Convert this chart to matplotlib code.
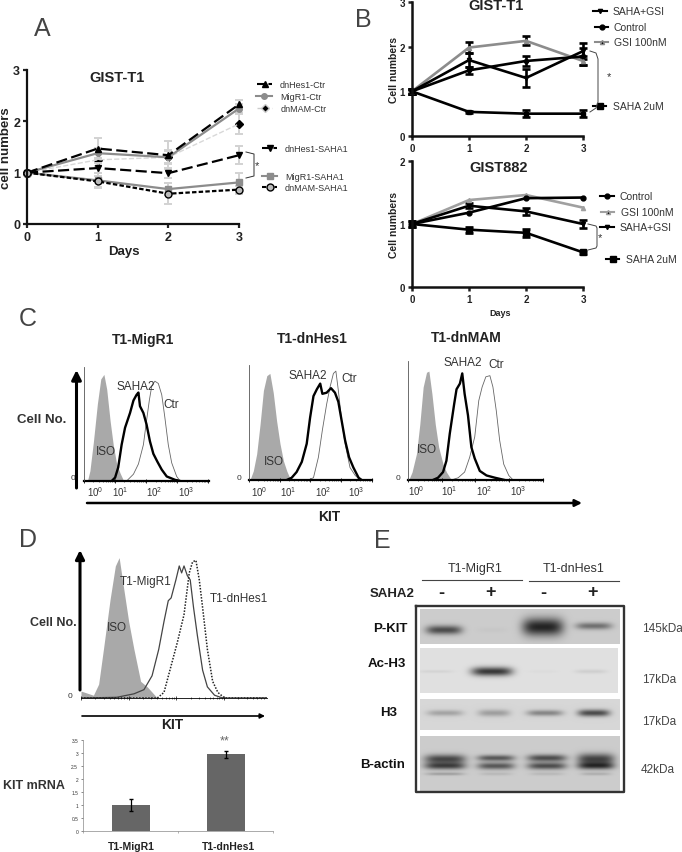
import numpy as np
import matplotlib
matplotlib.use('Agg')
import matplotlib.pyplot as plt
from matplotlib.ticker import LogLocator, NullFormatter

W, H = 682, 853
plt.rcParams['font.family'] = ['Liberation Sans', 'DejaVu Sans']
plt.rcParams['mathtext.default'] = 'regular'

# panel A
days = [0, 1, 2, 3]
a_hes_ctr = [1, 1.47, 1.34, 2.33]
a_mig_ctr = [1, 1.38, 1.30, 2.25]
a_mam_ctr = [1, 1.25, 1.30, 1.95]
a_hes_saha = [1, 1.09, 0.99, 1.34]
a_mig_saha = [1, 0.85, 0.68, 0.81]
a_mam_saha = [1, 0.83, 0.59, 0.67]
a_hes_ctr_err = [0, 0.20, 0.27, 0.09]
a_mig_ctr_err = [0, 0.10, 0.12, 0.08]
a_mam_ctr_err = [0, 0.12, 0.14, 0.20]
a_hes_saha_err = [0, 0.10, 0.10, 0.18]
a_mig_saha_err = [0, 0.14, 0.12, 0.18]
a_mam_saha_err = [0, 0.10, 0.20, 0.08]

# panel B
bt_combo = [1, 1.70, 1.30, 1.90]
bt_control = [1, 1.47, 1.68, 1.78]
bt_gsi = [1, 1.98, 2.13, 1.68]
bt_saha = [1, 0.54, 0.50, 0.50]
bt_combo_err = [0.06, 0.15, 0.20, 0.18]
bt_control_err = [0.06, 0.08, 0.12, 0.18]
bt_gsi_err = [0.06, 0.13, 0.10, 0.10]
bt_saha_err = [0.06, 0.03, 0.08, 0.08]
b8_control = [1, 1.18, 1.41, 1.42]
b8_gsi = [1, 1.38, 1.46, 1.26]
b8_combo = [1, 1.29, 1.20, 1.00]
b8_saha = [1, 0.91, 0.86, 0.55]
b8_combo_err = [0.04, 0.04, 0.06, 0.06]
b8_saha_err = [0.04, 0.05, 0.06, 0.02]

# panel C, x is log10(KIT), y is % of max
c1_iso_x = [0.11, 0.19, 0.30, 0.43, 0.54, 0.64, 0.73, 0.84, 0.94, 1.05, 1.16, 1.26, 1.34]
c1_iso_y = [0, 9, 34, 68, 90, 94, 81, 53, 32, 15, 7, 1, 0]
c1_saha_x = [0.89, 1.00, 1.10, 1.21, 1.32, 1.48, 1.59, 1.69, 1.75, 1.80, 1.91, 2.01, 2.12, 2.23, 2.36, 2.50, 2.66, 2.93, 3.09]
c1_saha_y = [0, 3, 12, 32, 47, 60, 71, 76, 78, 66, 60, 50, 35, 24, 17, 10, 4, 1, 0]
c1_ctr_x = [1.37, 1.59, 1.75, 1.91, 2.01, 2.10, 2.18, 2.28, 2.39, 2.50, 2.60, 2.71, 2.82, 2.98, 3.09]
c1_ctr_y = [0, 6, 15, 32, 53, 71, 84, 88, 86, 76, 56, 32, 16, 4, 0]

c2_iso_x = [0.03, 0.14, 0.25, 0.36, 0.47, 0.58, 0.68, 0.79, 0.90, 1.01, 1.12, 1.23, 1.34, 1.39]
c2_iso_y = [0, 8, 23, 49, 79, 92, 94, 77, 52, 32, 17, 8, 1, 0]
c2_saha_x = [1.23, 1.39, 1.55, 1.72, 1.88, 1.99, 2.10, 2.21, 2.32, 2.39, 2.53, 2.67, 2.80, 2.91, 3.02, 3.13, 3.26, 3.40, 3.57, 3.67]
c2_saha_y = [0, 2, 7, 16, 32, 55, 74, 80, 85, 76, 77, 81, 77, 69, 52, 35, 20, 11, 2, 0]
c2_ctr_x = [1.93, 2.10, 2.26, 2.39, 2.53, 2.64, 2.75, 2.83, 2.91, 3.02, 3.13, 3.29, 3.46, 3.62]
c2_ctr_y = [0, 2, 20, 44, 67, 82, 94, 96, 79, 52, 32, 11, 4, 0]

c3_iso_x = [0.02, 0.12, 0.25, 0.35, 0.45, 0.55, 0.62, 0.71, 0.81, 0.91, 1.04, 1.14, 1.29]
c3_iso_y = [0, 7, 23, 49, 82, 95, 96, 76, 49, 29, 14, 7, 0]
c3_saha_x = [0.74, 0.89, 1.04, 1.14, 1.24, 1.37, 1.44, 1.54, 1.61, 1.68, 1.78, 1.88, 1.98, 2.13, 2.33, 2.58, 2.87]
c3_saha_y = [0, 2, 7, 17, 41, 67, 80, 85, 94, 76, 57, 29, 19, 8, 4, 2, 0]
c3_ctr_x = [1.29, 1.49, 1.68, 1.83, 1.98, 2.10, 2.20, 2.31, 2.43, 2.52, 2.62, 2.72, 2.84, 2.99, 3.12]
c3_ctr_y = [0, 2, 7, 20, 38, 70, 82, 91, 92, 82, 61, 35, 14, 4, 0]

# panel D
d_iso_x = [0, 0.26, 0.37, 0.47, 0.61, 0.72, 0.80, 0.89, 1.00, 1.11, 1.25, 1.39, 1.60]
d_iso_y = [5, 2, 10, 35, 71, 95, 101, 80, 55, 35, 12, 8, 0]
d_mig_x = [0, 0.75, 1.11, 1.32, 1.49, 1.63, 1.74, 1.83, 1.89, 1.99, 2.06, 2.11, 2.16, 2.23,
           2.29, 2.36, 2.44, 2.55, 2.65, 2.80, 2.97, 3.9]
d_mig_y = [0, 0.5, 3, 6, 16, 35, 55, 70, 72, 85, 95, 90, 95, 88, 85, 65, 45, 20, 8, 2, 0, 0]
d_hes_x = [0, 1.60, 1.74, 1.88, 2.02, 2.16, 2.27, 2.34, 2.41, 2.48, 2.55, 2.65, 2.76, 2.87, 3.01, 3.9]
d_hes_y = [0, 0, 4, 22, 40, 60, 90, 98, 99, 85, 65, 35, 12, 4, 0, 0]

mrna_names = ['T1-MigR1', 'T1-dnHes1']
mrna_values = [1.0, 2.95]
mrna_err = [0.22, 0.13]

# panel E, darkness of the band in each lane
pkit_dark = [0.50, 0.02, 0.66, 0.36]
ach3_dark = [0.05, 0.66, 0.02, 0.07]
h3_dark = [0.20, 0.22, 0.32, 0.55]
actin_dark = [0.52, 0.46, 0.50, 0.54]
actin_low_dark = [0.18, 0.08, 0.08, 0.12]


def px_axes(fig, left, top, right, bottom, **kw):
    return fig.add_axes([left / W, 1 - bottom / H, (right - left) / W, (bottom - top) / H], **kw)


def line_axes(ax, xlim, ylim, yticks, size=9, lw=1.6):
    ax.set_xlim(xlim)
    ax.set_ylim(ylim)
    ax.set_xticks(days)
    ax.set_yticks(yticks)
    ax.patch.set_alpha(0)
    for s in ['top', 'right']:
        ax.spines[s].set_visible(False)
    for s in ['left', 'bottom']:
        ax.spines[s].set_linewidth(lw)
        ax.spines[s].set_color('#111111')
    ax.tick_params(width=lw, length=3, labelsize=size, pad=2, colors='#222222')
    for t in ax.get_xticklabels() + ax.get_yticklabels():
        t.set_fontweight('bold')


def series(ax, y, err=None, color='black', ls='-', marker='s', ms=4, lw=1.6, ecolor=None, cap=3, mfc=None, elw=1.6, first=0):
    ax.errorbar(days, y, yerr=err, color=color, ls=ls, marker=marker, ms=ms, lw=lw,
                ecolor=ecolor or color, capsize=cap, elinewidth=elw, capthick=elw,
                mfc=mfc or color, clip_on=False, errorevery=(first, 1))


def legend_row(ov, x0, x1, y, tx, label, color='black', ls='-', marker='s', ms=4, lw=1.5, mfc=None, size=7.5, tcolor='#333333'):
    ov.plot([x0, x1], [y, y], color=color, ls=ls, lw=lw)
    ov.plot([(x0 + x1) / 2], [y], color=color, marker=marker, ms=ms, mfc=mfc or color, ls='none')
    ov.text(tx, y, label, ha='left', va='center', fontsize=size, color=tcolor)


def histogram(fig, box, decade_px, iso, saha, ctr):
    left, top, right, bottom = box
    ax = px_axes(fig, left, top, right, bottom)
    hi = (right - left) / decade_px
    ax.set_xscale('log')
    ax.set_xlim(1, 10 ** hi)
    ax.set_ylim(0, (bottom - top) / 1.134)
    ax.fill_between(10 ** np.array(iso[0], dtype=float), iso[1], color='#a9a9a9', lw=0)
    ax.plot(10 ** np.array(ctr[0], dtype=float), ctr[1], color='#666666', lw=0.6)
    ax.plot(10 ** np.array(saha[0], dtype=float), saha[1], color='black', lw=1.7)
    ax.plot([1, 10 ** hi], [0, 0], color='black', lw=1.6, clip_on=False)
    ax.patch.set_alpha(0)
    for s in ['top', 'right']:
        ax.spines[s].set_visible(False)
    ax.spines['left'].set_linewidth(0.6)
    ax.spines['left'].set_color('#555555')
    ax.spines['bottom'].set_linewidth(0.6)
    ax.set_yticks([])
    ax.xaxis.set_major_locator(LogLocator(base=10, numticks=8))
    ax.xaxis.set_major_formatter(NullFormatter())
    ax.xaxis.set_minor_locator(LogLocator(base=10, subs=range(2, 10), numticks=8))
    ax.xaxis.set_minor_formatter(NullFormatter())
    ax.tick_params(axis='x', which='major', length=3.5, width=0.6, direction='inout')
    ax.tick_params(axis='x', which='minor', length=2, width=0.4, direction='inout')
    return ax


def blot(ov, box, bg, bands):
    left, top, right, bottom = box
    xs = np.linspace(left, right, int((right - left) * 3))
    ys = np.linspace(top, bottom, int((bottom - top) * 3))
    xx, yy = np.meshgrid(xs, ys)
    img = np.full(xx.shape, bg, dtype=float)
    for cx, cy, bw, bh, d in bands:
        img -= d * np.exp(-((xx - cx) / (bw / 2)) ** 4) * np.exp(-((yy - cy) / (bh / 2)) ** 2)
    ov.imshow(np.clip(img, 0, 1), cmap='gray', vmin=0, vmax=1, extent=[left, right, bottom, top],
              aspect='auto', interpolation='bilinear', zorder=2)


fig = plt.figure(figsize=(W / 100, H / 100), dpi=100, facecolor='white')

# full figure layer in pixel units for the labels, arrows and the blot
ov = fig.add_axes([0, 0, 1, 1], zorder=5)
ov.set_xlim(0, W)
ov.set_ylim(H, 0)
ov.axis('off')
ov.patch.set_alpha(0)

for letter, x, y in [('A', 42, 29), ('B', 363, 20), ('C', 28, 319), ('D', 28, 540), ('E', 382, 541)]:
    ov.text(x, y, letter, fontsize=18, ha='center', va='center', color='#444444')

# A
ax = px_axes(fig, 27, 71, 239, 225)
line_axes(ax, (0, 3), (0, 3), [0, 1, 2, 3], size=9)
light = '#d2d2d2'
series(ax, a_mam_ctr, a_mam_ctr_err, color='#d8d8d8', ls='--', marker='None', lw=1, ecolor=light, elw=1.4, first=1)
ax.plot(days[1:], a_mam_ctr[1:], 'D', color='black', ms=4, clip_on=False)
series(ax, a_mig_ctr, a_mig_ctr_err, color='#8c8c8c', marker='o', ms=4, ecolor=light, elw=1.4, first=1)
series(ax, a_hes_ctr, a_hes_ctr_err, ls=(0, (5, 2)), marker='^', ms=4, ecolor=light, elw=1.4, first=1)
series(ax, a_mig_saha, a_mig_saha_err, color='#8c8c8c', marker='s', ms=4.5, ecolor=light, elw=1.4, first=1)
series(ax, a_hes_saha, a_hes_saha_err, ls=(0, (5, 2)), marker='v', ms=4, ecolor=light, elw=1.4, first=1)
series(ax, a_mam_saha, a_mam_saha_err, ls=(0, (2, 1)), marker='o', ms=5, mfc='#bbbbbb', ecolor=light, elw=1.4, first=1)
ax.plot([0], [1], 'o', color='black', ms=5.5, clip_on=False)
ov.text(117, 78, 'GIST-T1', fontsize=10.5, fontweight='bold', ha='center', va='center', color='#222222')
ov.text(6, 148, 'cell numbers', fontsize=9.5, fontweight='bold', rotation=90, ha='center', va='center', color='#222222')
ov.text(124, 252, 'Days', fontsize=9.5, fontweight='bold', ha='center', va='center', color='#222222')
legend_row(ov, 257, 272, 85, 280, 'dnHes1-Ctr', ls=(0, (4, 1.5)), marker='^', size=6.5)
legend_row(ov, 256, 272, 97, 280, 'MigR1-Ctr', color='#8c8c8c', marker='o', size=6.5)
legend_row(ov, 257, 272, 109, 281, 'dnMAM-Ctr', color='#cccccc', ls='--', marker='D', mfc='black', lw=1, size=6.5)
legend_row(ov, 262, 277, 149, 285, 'dnHes1-SAHA1', ls=(0, (4, 1.5)), marker='v', size=6.5)
legend_row(ov, 262, 277, 177, 285, 'MigR1-SAHA1', color='#8c8c8c', marker='s', ms=5, size=6.5)
legend_row(ov, 262, 277, 188, 285, 'dnMAM-SAHA1', ls=(0, (2, 1)), marker='o', ms=5, mfc='#bbbbbb', size=6.5)
ov.plot([246, 254, 254, 246], [153, 155, 177, 179], color='#333333', lw=0.7)
ov.text(257, 166, '*', fontsize=8, ha='center', va='center', color='#333333')

# B top
ax = px_axes(fig, 412, 3, 583, 137)
line_axes(ax, (0, 3), (0, 3), [0, 1, 2, 3], size=7, lw=1.8)
series(ax, bt_gsi, bt_gsi_err, color='#8c8c8c', marker='^', ms=3, ecolor='black', lw=1.9, elw=1.9)
series(ax, bt_control, bt_control_err, marker='o', ms=3, lw=1.9, elw=1.9)
series(ax, bt_combo, bt_combo_err, marker='v', ms=3, lw=1.9, elw=1.9)
series(ax, bt_saha, bt_saha_err, marker='s', ms=3.5, lw=1.9, elw=1.9)
ov.text(496, 6, 'GIST-T1', fontsize=10.5, fontweight='bold', ha='center', va='center', color='#222222')
ov.text(394, 70, 'Cell numbers', fontsize=7.5, fontweight='bold', rotation=90, ha='center', va='center', color='#222222')
legend_row(ov, 593, 607, 12, 613, 'SAHA+GSI', marker='v', ms=3)
legend_row(ov, 595, 608, 28, 614, 'Control', marker='o', ms=3.5)
legend_row(ov, 595, 608, 43, 614, 'GSI 100nM', color='#8c8c8c', marker='^', ms=3, mfc='black')
legend_row(ov, 593, 606, 107, 613, 'SAHA 2uM', marker='s', ms=4)
ov.plot([590, 596, 598, 598, 596, 590], [52, 54, 60, 103, 109, 113], color='#444444', lw=0.7)
ov.text(609, 77, '*', fontsize=8, ha='center', va='center', color='#333333')

# B bottom
ax = px_axes(fig, 412, 162, 583, 288)
line_axes(ax, (0, 3), (0, 2), [0, 1, 2], size=7, lw=1.8)
series(ax, b8_gsi, color='#a0a0a0', marker='^', ms=3, lw=1.9)
series(ax, b8_control, marker='o', ms=3.5, lw=1.9)
series(ax, b8_combo, b8_combo_err, marker='v', ms=3, lw=1.9, elw=1.9)
series(ax, b8_saha, b8_saha_err, marker='s', ms=4, lw=1.9, elw=1.9)
ov.text(499, 168, 'GIST882', fontsize=10.5, fontweight='bold', ha='center', va='center', color='#222222')
ov.text(394, 225, 'Cell numbers', fontsize=7.5, fontweight='bold', rotation=90, ha='center', va='center', color='#222222')
ov.text(500, 313, 'Days', fontsize=6.5, fontweight='bold', ha='center', va='center', color='#222222')
legend_row(ov, 600, 614, 197, 620, 'Control', marker='o', ms=3.5)
legend_row(ov, 601, 614, 213, 621, 'GSI 100nM', color='#a0a0a0', marker='^', ms=3, mfc='black')
legend_row(ov, 600, 614, 228, 620, 'SAHA+GSI', marker='v', ms=3)
legend_row(ov, 606, 619, 260, 626, 'SAHA 2uM', marker='s', ms=4)
ov.plot([588, 596, 597, 597, 596, 588], [225, 227, 229, 247, 249, 251], color='#444444', lw=0.7)
ov.text(600, 238, '*', fontsize=8, ha='center', va='center', color='#333333')

# C
histogram(fig, (84, 368, 209, 482), 31.1, (c1_iso_x, c1_iso_y), (c1_saha_x, c1_saha_y), (c1_ctr_x, c1_ctr_y))
histogram(fig, (249, 366, 372, 481), 30.7, (c2_iso_x, c2_iso_y), (c2_saha_x, c2_saha_y), (c2_ctr_x, c2_ctr_y))
histogram(fig, (408, 362, 543, 481), 33.7, (c3_iso_x, c3_iso_y), (c3_saha_x, c3_saha_y), (c3_ctr_x, c3_ctr_y))
# the decade labels sit apart from the ticks in the original
for exp, x in zip([0, 1, 2, 3], [95, 120, 154, 186]):
    ov.text(x, 492, r'$10^{%d}$' % exp, fontsize=7, ha='center', va='center', color='#333333')
for exp, x in zip([0, 1, 2, 3], [259, 288, 323, 356]):
    ov.text(x, 492, r'$10^{%d}$' % exp, fontsize=7, ha='center', va='center', color='#333333')
for exp, x in zip([0, 1, 2, 3], [416, 449, 484, 518]):
    ov.text(x, 491, r'$10^{%d}$' % exp, fontsize=7, ha='center', va='center', color='#333333')
for txt, x, y in [('T1-MigR1', 143, 340), ('T1-dnHes1', 312, 339), ('T1-dnMAM', 466, 338)]:
    ov.text(x, y, txt, fontsize=10, fontweight='bold', ha='center', va='center', color='#222222')
for txt, x, y in [('SAHA2', 136, 387), ('Ctr', 171, 405), ('ISO', 106, 452),
                  ('SAHA2', 308, 376), ('Ctr', 349, 379), ('ISO', 274, 462),
                  ('SAHA2', 463, 363), ('Ctr', 496, 365), ('ISO', 427, 450)]:
    ov.text(x, y, txt, fontsize=8.5, ha='center', va='center', color='#333333')
for x, y in [(73, 479), (239, 479), (398, 478)]:
    ov.text(x, y, '0', fontsize=6, ha='center', va='center', color='#333333')
ov.text(42, 420, 'Cell No.', fontsize=9.5, fontweight='bold', ha='center', va='center', color='#333333')
ov.annotate('', xy=(76.5, 371), xytext=(76.5, 489), arrowprops=dict(arrowstyle='-|>', lw=2.2, color='black', mutation_scale=14, shrinkA=0, shrinkB=0))
ov.annotate('', xy=(582, 504), xytext=(87, 504), arrowprops=dict(arrowstyle='-|>', lw=1.8, color='black', mutation_scale=10, shrinkA=0, shrinkB=0))
ov.text(329, 517, 'KIT', fontsize=10, fontweight='bold', ha='center', va='center', color='#222222')

# D histogram
ax = px_axes(fig, 81, 553, 267, 699)
ax.set_xscale('log')
ax.set_xlim(1, 10 ** 3.9)
ax.set_ylim(0, 146 / 1.39)
ax.fill_between(10 ** np.array(d_iso_x), d_iso_y, color='#a9a9a9', lw=0)
ax.plot(10 ** np.array(d_mig_x), d_mig_y, color='#444444', lw=0.9)
ax.plot(10 ** np.array(d_hes_x), d_hes_y, color='#222222', lw=1.1, ls=(0, (1, 1)))
ax.patch.set_alpha(0)
for s in ['top', 'right', 'left']:
    ax.spines[s].set_visible(False)
ax.spines['bottom'].set_linewidth(0.6)
ax.set_yticks([])
ax.xaxis.set_major_locator(LogLocator(base=10, numticks=8))
ax.xaxis.set_minor_locator(LogLocator(base=10, subs=range(2, 10), numticks=8))
ax.xaxis.set_major_formatter(NullFormatter())
ax.xaxis.set_minor_formatter(NullFormatter())
ax.tick_params(axis='x', which='major', length=2.5, width=0.5, direction='inout')
ax.tick_params(axis='x', which='minor', length=1.5, width=0.4, direction='inout')
ov.annotate('', xy=(80, 551), xytext=(80, 691), arrowprops=dict(arrowstyle='-|>', lw=2.2, color='black', mutation_scale=13, shrinkA=0, shrinkB=0))
ov.annotate('', xy=(265, 717), xytext=(82, 717), arrowprops=dict(arrowstyle='-|>', lw=1.2, color='black', mutation_scale=7, shrinkA=0, shrinkB=0))
ov.text(53, 623, 'Cell No.', fontsize=9, fontweight='bold', ha='center', va='center', color='#333333')
ov.text(117, 628, 'ISO', fontsize=8.5, ha='center', va='center', color='#333333')
ov.text(146, 582, 'T1-MigR1', fontsize=8.5, ha='center', va='center', color='#333333')
ov.text(239, 599, 'T1-dnHes1', fontsize=8.5, ha='center', va='center', color='#333333')
ov.text(70, 697, '0', fontsize=6, ha='center', va='center', color='#333333')
ov.text(172, 725, 'KIT', fontsize=10, fontweight='bold', ha='center', va='center', color='#222222')

# D bars
ax = px_axes(fig, 83, 741, 273, 832)
ax.bar([0, 1], mrna_values, width=0.4, color='#666666')
ax.errorbar([0, 1], mrna_values, yerr=mrna_err, color='black', ls='none', capsize=1.5, lw=0.9)
ax.set_xlim(-0.5, 1.5)
ax.set_ylim(0, 3.5)
ax.set_yticks(np.arange(0, 3.6, 0.5))
ax.set_yticklabels(['0', '0.5', '1', '1.5', '2', '2.5', '3', '3.5'])
ax.set_xticks([-0.5, 0.5, 1.5])
ax.set_xticklabels([])
ax.tick_params(axis='y', labelsize=3.5, length=1.5, width=0.4, pad=2, colors='#333333')
ax.tick_params(axis='x', length=1.5, width=0.4, colors='#777777')
ax.patch.set_alpha(0)
for s in ['top', 'right']:
    ax.spines[s].set_visible(False)
for s in ['left', 'bottom']:
    ax.spines[s].set_linewidth(0.5)
    ax.spines[s].set_color('#888888')
ov.text(225, 741, '**', fontsize=9, ha='center', va='center', color='#666666')
ov.text(34, 786, 'KIT mRNA', fontsize=9, fontweight='bold', ha='center', va='center', color='#333333')
for name, x in zip(mrna_names, [131, 228]):
    ov.text(x, 847, name, fontsize=7.5, fontweight='bold', ha='center', va='center', color='#222222')

# E
blot(ov, (420, 610, 620, 645), 0.80, [(x, y, w, h, d) for x, y, w, h, d in
     zip([444, 492, 543, 594], [631, 631, 628, 627], [36, 30, 41, 36], [9, 5, 18, 7], pkit_dark)])
blot(ov, (420, 649, 618, 694), 0.88, [(x, 672.5, w, h, d) for x, w, h, d in
     zip([436, 492, 543, 591], [35, 41, 30, 32], [3, 9, 3, 4], ach3_dark)])
blot(ov, (420, 700, 620, 731), 0.84, [(x, 714, w, h, d) for x, w, h, d in
     zip([445, 494, 545, 594], [36, 32, 36, 32], [6, 7, 6, 7], h3_dark)])
actin_lanes = [445, 496, 547, 596]
blot(ov, (420, 737, 620, 792), 0.80,
     [(x, y, w, h, d) for x, y, w, h, d in zip(actin_lanes, [760, 759, 759, 760], [41, 37, 39, 37], [9, 6, 7, 11], actin_dark)] +
     [(x, 767, w, 7, d) for x, w, d in zip(actin_lanes, [41, 37, 39, 37], actin_dark)] +
     [(x, 775, w, 3, d) for x, w, d in zip(actin_lanes, [38, 32, 34, 30], actin_low_dark)])
ov.plot([416, 624, 624, 416, 416], [607, 607, 793, 793, 607], color='#333333', lw=1.7, zorder=3)
ov.set_xlim(0, W)
ov.set_ylim(H, 0)
ov.plot([422, 522], [581, 581], color='#444444', lw=0.8)
ov.plot([529, 619], [581.5, 581.5], color='#444444', lw=0.8)
ov.text(475, 569, 'T1-MigR1', fontsize=9, ha='center', va='center', color='#333333')
ov.text(574, 569, 'T1-dnHes1', fontsize=9, ha='center', va='center', color='#333333')
ov.text(392, 594, 'SAHA2', fontsize=9.5, fontweight='bold', ha='center', va='center', color='#222222')
for sign, x in zip(['-', '+', '-', '+'], [441, 491, 543, 593]):
    ov.text(x, 593, sign, fontsize=13, fontweight='bold', ha='center', va='center', color='#222222')
for txt, x, y in [('P-KIT', 390, 629), ('Ac-H3', 387, 664), ('H3', 389, 713), ('B-actin', 383, 765)]:
    ov.text(x, y, txt, fontsize=9.5, fontweight='bold', ha='center', va='center', color='#111111')
for txt, x, y in [('145kDa', 662, 629), ('17kDa', 659, 680), ('17kDa', 659, 722), ('42kDa', 658, 770)]:
    ov.text(x, y, txt, fontsize=8.5, ha='center', va='center', color='#444444')

fig.savefig('out.png', dpi=100, facecolor='white')
